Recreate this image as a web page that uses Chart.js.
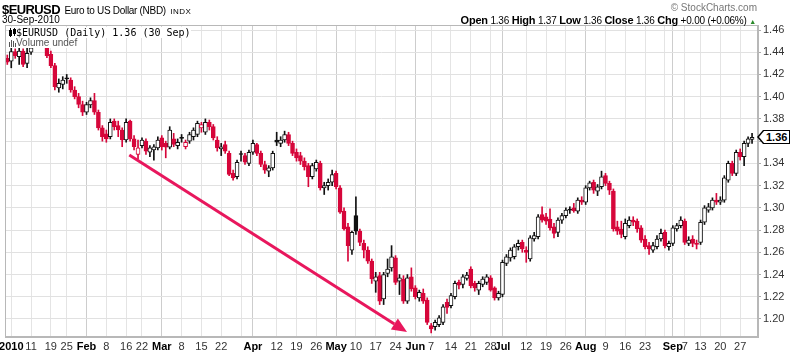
<!DOCTYPE html>
<html>
<head>
<meta charset="utf-8">
<script src="https://cdn.jsdelivr.net/npm/chart.js@4.4.1/dist/chart.umd.min.js"></script>
<style>
  body { margin: 0; background: #fff; overflow: hidden; }
  #wrap { position: relative; width: 800px; height: 355px; font-family: "Liberation Sans", Arial, sans-serif; color: #000; }
  canvas { position: absolute; left: 0; top: 0; }
  .t { position: absolute; white-space: nowrap; line-height: 12px; }
  .leg { background: #fff; }
  #last { position: absolute; left: 763px; height: 12px; line-height: 12px; padding: 0 2px; border: 1px solid #000;
          background: #fff; font: bold 11px "Liberation Sans", Arial, sans-serif; }
  #last::before { content: ''; position: absolute; left: -7px; top: -1px; border-top: 7px solid transparent;
                  border-bottom: 7px solid transparent; border-right: 6px solid #000; }
  #last::after { content: ''; position: absolute; left: -5px; top: 0; border-top: 6px solid transparent;
                 border-bottom: 6px solid transparent; border-right: 5px solid #fff; }
</style>
</head>
<body>
<div id="wrap">
  <canvas id="chart" width="800" height="355"></canvas>

  <div class="t" style="left:2px;top:2px;line-height:14px">
    <span style="font-weight:bold;font-size:13px;letter-spacing:-0.6px">$EURUSD</span>
    <span style="font-size:10px;letter-spacing:-0.3px">Euro to US Dollar (NBD)</span>
    <span style="font-size:8px;letter-spacing:0.5px">INDX</span>
  </div>
  <div class="t" style="left:2px;top:14px;font-size:10px">30-Sep-2010</div>

  <div class="t" style="right:43px;top:2px;font-size:10px;color:#777">&copy; StockCharts.com</div>
  <div class="t" style="right:44px;top:14px;font-size:10px;letter-spacing:-0.2px">
    <b style="font-size:11px">Open</b> 1.36 <b style="font-size:11px">High</b> 1.37 <b style="font-size:11px">Low</b> 1.36 <b style="font-size:11px">Close</b> 1.36 <b style="font-size:11px">Chg</b> +0.00 (+0.06%) <span style="font-size:7px;color:#2a8a2a">&#9650;</span>
  </div>

  <div class="t leg" style="left:9px;top:27px;font-family:'DejaVu Sans Mono',monospace;font-size:10px;line-height:11px">
    <svg width="7" height="9" style="vertical-align:-1px"><rect x="0.5" y="2.5" width="2" height="5" fill="none" stroke="#000"/><line x1="1.5" y1="0" x2="1.5" y2="9" stroke="#000"/><rect x="4" y="1" width="3" height="5" fill="#000"/><line x1="5.5" y1="0" x2="5.5" y2="8" stroke="#000"/></svg>$EURUSD (Daily) 1.36 (30 Sep)
  </div>
  <div class="t leg" style="left:9px;top:38px;font-size:10px;line-height:10px;color:#555">
    <svg width="7" height="8" style="vertical-align:-1px"><rect x="0" y="3" width="1" height="5" fill="#555"/><rect x="2" y="1" width="1" height="7" fill="#555"/><rect x="4" y="2" width="1" height="6" fill="#555"/><rect x="6" y="4" width="1" height="4" fill="#555"/></svg>Volume undef
  </div>

  <div id="last"></div>
</div>

<script>
// daily EUR/USD candles, 31 Dec 2009 .. 30 Sep 2010 (one entry per trading day)
const open = [
  1.4345,1.4320,1.4405,1.4360,1.4410,1.4300,1.4400,1.4445,1.4500,1.4540,
  1.4480,1.4380,1.4280,1.4080,1.4110,1.4165,1.4150,1.4060,1.4000,1.3930,
  1.3860,1.3925,1.3965,1.3860,1.3720,1.3665,1.3640,1.3780,1.3740,1.3700,
  1.3610,1.3780,1.3620,1.3480,1.3560,1.3600,1.3500,1.3520,1.3540,1.3630,
  1.3580,1.3545,1.3620,1.3560,1.3625,1.3550,1.3600,1.3640,1.3660,1.3720,
  1.3680,1.3770,1.3730,1.3610,1.3530,1.3570,1.3490,1.3310,1.3280,1.3480,
  1.3470,1.3400,1.3500,1.3570,1.3490,1.3390,1.3330,1.3360,1.3610,1.3580,
  1.3610,1.3660,1.3580,1.3500,1.3470,1.3420,1.3380,1.3280,1.3350,1.3400,
  1.3180,1.3200,1.3230,1.3310,1.3180,1.2970,1.2830,1.2620,1.2930,1.2790,
  1.2680,1.2620,1.2520,1.2340,1.2390,1.2180,1.2410,1.2460,1.2550,1.2340,
  1.2360,1.2160,1.2380,1.2280,1.2190,1.2230,1.2170,1.1940,1.1930,1.1950,
  1.1970,1.2150,1.2120,1.2200,1.2330,1.2310,1.2365,1.2450,1.2320,1.2260,
  1.2310,1.2330,1.2370,1.2280,1.2190,1.2220,1.2500,1.2550,1.2560,1.2650,
  1.2690,1.2620,1.2540,1.2720,1.2740,1.2940,1.2920,1.2900,1.2830,1.2780,
  1.2890,1.2930,1.2980,1.3000,1.2970,1.3070,1.3050,1.3180,1.3230,1.3150,
  1.3190,1.3290,1.3220,1.3150,1.2830,1.2810,1.2740,1.2840,1.2890,1.2880,
  1.2820,1.2720,1.2660,1.2620,1.2650,1.2720,1.2780,1.2650,1.2680,1.2810,
  1.2840,1.2880,1.2680,1.2720,1.2680,1.2690,1.2870,1.2980,1.3000,1.3070,
  1.3050,1.3070,1.3250,1.3400,1.3310,1.3500,1.3460,1.3580,1.3615
];
const high = [
  1.4375,1.4445,1.4430,1.4450,1.4430,1.4460,1.4520,1.4530,1.4570,1.4560,
  1.4500,1.4410,1.4300,1.4160,1.4180,1.4200,1.4170,1.4090,1.4030,1.3960,
  1.3950,1.3990,1.4030,1.3880,1.3740,1.3700,1.3800,1.3800,1.3780,1.3720,
  1.3800,1.3790,1.3650,1.3610,1.3630,1.3620,1.3560,1.3570,1.3640,1.3650,
  1.3600,1.3730,1.3670,1.3620,1.3660,1.3610,1.3680,1.3720,1.3780,1.3770,
  1.3800,1.3790,1.3750,1.3640,1.3580,1.3600,1.3510,1.3340,1.3430,1.3510,
  1.3490,1.3520,1.3610,1.3580,1.3510,1.3420,1.3380,1.3510,1.3680,1.3640,
  1.3690,1.3680,1.3600,1.3530,1.3500,1.3450,1.3400,1.3400,1.3430,1.3420,
  1.3230,1.3260,1.3340,1.3330,1.3200,1.3000,1.2860,1.2790,1.3100,1.2810,
  1.2710,1.2650,1.2540,1.2420,1.2420,1.2420,1.2540,1.2660,1.2570,1.2400,
  1.2390,1.2400,1.2460,1.2300,1.2260,1.2270,1.2190,1.1960,1.1990,1.2030,
  1.2130,1.2180,1.2230,1.2340,1.2350,1.2400,1.2420,1.2470,1.2340,1.2340,
  1.2380,1.2400,1.2390,1.2290,1.2250,1.2530,1.2580,1.2640,1.2670,1.2710,
  1.2710,1.2650,1.2750,1.2780,1.2940,1.3010,1.2950,1.2990,1.2860,1.2910,
  1.2950,1.3000,1.3010,1.3040,1.3090,1.3100,1.3200,1.3240,1.3250,1.3210,
  1.3330,1.3310,1.3240,1.3170,1.2880,1.2880,1.2900,1.2920,1.2920,1.2900,
  1.2840,1.2750,1.2690,1.2690,1.2750,1.2810,1.2800,1.2700,1.2840,1.2860,
  1.2920,1.2900,1.2740,1.2750,1.2710,1.2890,1.3020,1.3040,1.3090,1.3130,
  1.3100,1.3290,1.3420,1.3420,1.3520,1.3530,1.3600,1.3640,1.3670
];
const low = [
  1.4290,1.4260,1.4345,1.4290,1.4270,1.4260,1.4380,1.4440,1.4450,1.4470,
  1.4350,1.4260,1.4060,1.4040,1.4070,1.4120,1.4040,1.3980,1.3900,1.3830,
  1.3840,1.3900,1.3840,1.3700,1.3600,1.3590,1.3620,1.3700,1.3640,1.3550,
  1.3590,1.3600,1.3520,1.3440,1.3540,1.3480,1.3460,1.3430,1.3520,1.3520,
  1.3450,1.3530,1.3550,1.3530,1.3590,1.3530,1.3580,1.3610,1.3640,1.3680,
  1.3660,1.3700,1.3610,1.3510,1.3470,1.3490,1.3290,1.3250,1.3260,1.3420,
  1.3390,1.3380,1.3480,1.3470,1.3370,1.3310,1.3280,1.3340,1.3560,1.3550,
  1.3590,1.3560,1.3470,1.3420,1.3390,1.3340,1.3190,1.3260,1.3330,1.3160,
  1.3120,1.3160,1.3200,1.3170,1.2950,1.2800,1.2520,1.2580,1.2760,1.2660,
  1.2550,1.2500,1.2320,1.2240,1.2130,1.2130,1.2380,1.2430,1.2310,1.2220,
  1.2140,1.2140,1.2250,1.2180,1.2160,1.2140,1.1950,1.1875,1.1900,1.1930,
  1.1950,1.2050,1.2100,1.2180,1.2270,1.2280,1.2350,1.2280,1.2250,1.2220,
  1.2290,1.2310,1.2250,1.2170,1.2170,1.2200,1.2480,1.2520,1.2540,1.2620,
  1.2600,1.2510,1.2520,1.2700,1.2720,1.2870,1.2850,1.2800,1.2730,1.2740,
  1.2860,1.2910,1.2950,1.2960,1.2950,1.3030,1.3030,1.3160,1.3130,1.3110,
  1.3170,1.3200,1.3120,1.2790,1.2760,1.2730,1.2720,1.2820,1.2840,1.2780,
  1.2690,1.2630,1.2580,1.2600,1.2630,1.2700,1.2640,1.2620,1.2660,1.2790,
  1.2820,1.2670,1.2660,1.2650,1.2630,1.2670,1.2850,1.2960,1.2980,1.3030,
  1.3030,1.3050,1.3230,1.3290,1.3290,1.3430,1.3380,1.3550,1.3580
];
const close = [
  1.4310,1.4405,1.4370,1.4410,1.4290,1.4390,1.4440,1.4500,1.4540,1.4490,
  1.4370,1.4280,1.4090,1.4120,1.4150,1.4160,1.4060,1.4000,1.3930,1.3860,
  1.3930,1.3965,1.3860,1.3720,1.3640,1.3620,1.3770,1.3730,1.3700,1.3610,
  1.3770,1.3620,1.3550,1.3540,1.3610,1.3510,1.3540,1.3550,1.3610,1.3550,
  1.3545,1.3700,1.3570,1.3590,1.3625,1.3590,1.3660,1.3700,1.3760,1.3750,
  1.3770,1.3730,1.3630,1.3540,1.3550,1.3510,1.3300,1.3270,1.3410,1.3480,
  1.3410,1.3500,1.3580,1.3490,1.3390,1.3340,1.3360,1.3490,1.3590,1.3610,
  1.3660,1.3580,1.3490,1.3450,1.3420,1.3370,1.3280,1.3380,1.3410,1.3180,
  1.3200,1.3230,1.3300,1.3190,1.2960,1.2810,1.2660,1.2780,1.2790,1.2690,
  1.2620,1.2520,1.2360,1.2380,1.2160,1.2400,1.2450,1.2560,1.2330,1.2370,
  1.2160,1.2370,1.2270,1.2200,1.2240,1.2160,1.1970,1.1910,1.1970,1.2010,
  1.2110,1.2105,1.2210,1.2320,1.2305,1.2380,1.2395,1.2300,1.2280,1.2320,
  1.2360,1.2380,1.2260,1.2190,1.2230,1.2510,1.2560,1.2620,1.2650,1.2680,
  1.2630,1.2600,1.2730,1.2750,1.2920,1.2890,1.2880,1.2820,1.2770,1.2890,
  1.2930,1.2980,1.2980,1.2975,1.3070,1.3050,1.3180,1.3225,1.3160,1.3190,
  1.3280,1.3220,1.3160,1.2810,1.2790,1.2760,1.2860,1.2890,1.2870,1.2810,
  1.2710,1.2650,1.2630,1.2660,1.2720,1.2770,1.2660,1.2680,1.2820,1.2840,
  1.2890,1.2690,1.2710,1.2680,1.2670,1.2870,1.3000,1.3010,1.3070,1.3050,
  1.3070,1.3270,1.3400,1.3310,1.3500,1.3460,1.3580,1.3620,1.3635
];

// x axis: trading-day index of each labelled week / month start
const tickPos = [1,6,11,15,20,25,30,34,39,44,49,54,59,62,68,73,78,83,88,93,98,103,107,112,117,122,125,131,136,141,146,151,156,161,166,168,171,175,180,185];
const tickText = ['2010','11','19','25','Feb','8','16','22','Mar','8','15','22','','Apr','12','19','26','May','10','17','24','Jun','7','14','21','28','Jul','12','19','26','Aug','9','16','23','','Sep','7','13','20','27'];
const yTicks = [1.20,1.22,1.24,1.26,1.28,1.30,1.32,1.34,1.36,1.38,1.40,1.42,1.44,1.46];

// trend arrow drawn on the chart: [day index, price]
const arrowFrom = [30.8, 1.3475];
const arrowTo = [100.9, 1.1882];

const FONT = '"Liberation Sans", Arial, sans-serif';
const RED = '#d6063a';
const BLACK = '#111';

const isBold = t => /^[A-Z]|2010/.test(t || '');
const labelAt = v => tickText[tickPos.indexOf(v)];

// stockcharts colouring: red if close below previous close, hollow if close above open
const days = close.map((c, i) => i);
const lineColor = days.map(i => close[i] >= (i ? close[i - 1] : open[i]) ? BLACK : RED);
const bodyFill = days.map(i => close[i] > open[i] ? '#fff' : lineColor[i]);

const bodies = days.map(i => ({ x: i, y: [Math.min(open[i], close[i]), Math.max(open[i], close[i])] }));
const wicks = days.map(i => ({ x: i, y: [low[i], high[i]] }));

const extras = {
  id: 'extras',
  afterDatasetsDraw(chart) {
    const { ctx, scales: { x, y } } = chart;
    const x1 = x.getPixelForValue(arrowFrom[0]), y1 = y.getPixelForValue(arrowFrom[1]);
    const x2 = x.getPixelForValue(arrowTo[0]), y2 = y.getPixelForValue(arrowTo[1]);
    const a = Math.atan2(y2 - y1, x2 - x1);
    const head = 15, half = 6.5;
    const bx = x2 - head * Math.cos(a), by = y2 - head * Math.sin(a);
    ctx.save();
    ctx.strokeStyle = ctx.fillStyle = '#e8175d';
    ctx.lineWidth = 3;
    ctx.beginPath();
    ctx.moveTo(x1, y1);
    ctx.lineTo(bx, by);
    ctx.stroke();
    ctx.beginPath();
    ctx.moveTo(x2, y2);
    ctx.lineTo(bx + half * Math.sin(a), by - half * Math.cos(a));
    ctx.lineTo(bx - half * Math.sin(a), by + half * Math.cos(a));
    ctx.closePath();
    ctx.fill();
    ctx.restore();
  },
  afterDraw(chart) {
    const { ctx, chartArea: c } = chart;
    ctx.save();
    ctx.strokeStyle = '#b8b8b8';
    ctx.lineWidth = 1;
    ctx.strokeRect(c.left + 0.5, c.top + 0.5, c.right - c.left - 1, c.bottom - c.top - 1);
    ctx.restore();
  }
};

const chart = new Chart(document.getElementById('chart'), {
  type: 'bar',
  data: {
    datasets: [
      {
        data: bodies, order: 0, grouped: false, barThickness: 4,
        backgroundColor: bodyFill, borderColor: lineColor, borderWidth: 1,
        borderSkipped: false, minBarLength: 1
      },
      {
        data: wicks, order: 1, grouped: false, barThickness: 1,
        backgroundColor: lineColor, borderWidth: 0
      }
    ]
  },
  options: {
    responsive: false,
    animation: false,
    devicePixelRatio: 1,
    layout: { padding: { top: 25, left: 5, right: 0, bottom: 0 } },
    plugins: { legend: { display: false }, tooltip: { enabled: false } },
    scales: {
      x: {
        type: 'linear',
        min: -0.58,
        max: 189.5,
        bounds: 'data',
        offset: false,
        afterBuildTicks: s => { s.ticks = tickPos.map(v => ({ value: v })); },
        afterFit: s => { s.height = 18; s.paddingLeft = 0; s.paddingRight = 0; },
        grid: {
          offset: false,
          drawTicks: false,
          color: ctx => ctx.tick && /^[A-Z]/.test(labelAt(ctx.tick.value) || '') ? '#cdcdcd' : '#e4e4e4'
        },
        border: { color: '#b8b8b8' },
        ticks: {
          autoSkip: false,
          maxRotation: 0,
          padding: 3,
          color: ctx => ctx.tick && isBold(labelAt(ctx.tick.value)) ? '#000' : '#333',
          font: ctx => ({ family: FONT, size: 11, weight: ctx.tick && isBold(labelAt(ctx.tick.value)) ? 'bold' : 'normal' }),
          callback: v => labelAt(v)
        }
      },
      y: {
        position: 'right',
        min: 1.1838,
        max: 1.4645,
        bounds: 'data',
        afterBuildTicks: s => { s.ticks = yTicks.map(v => ({ value: v })); },
        afterFit: s => { s.width = 42; s.paddingTop = 0; s.paddingBottom = 0; },
        grid: { color: '#e1e1e1', drawTicks: true, tickLength: 3, tickColor: '#aaa' },
        border: { color: '#b8b8b8' },
        ticks: { padding: 2, color: '#333', font: { family: FONT, size: 11 }, callback: v => v.toFixed(2) }
      }
    }
  },
  plugins: [extras]
});

// last price flag on the right axis
const lastBox = document.getElementById('last');
lastBox.textContent = close[close.length - 1].toFixed(2);
lastBox.style.top = (chart.scales.y.getPixelForValue(close[close.length - 1]) - 7) + 'px';
</script>
</body>
</html>
